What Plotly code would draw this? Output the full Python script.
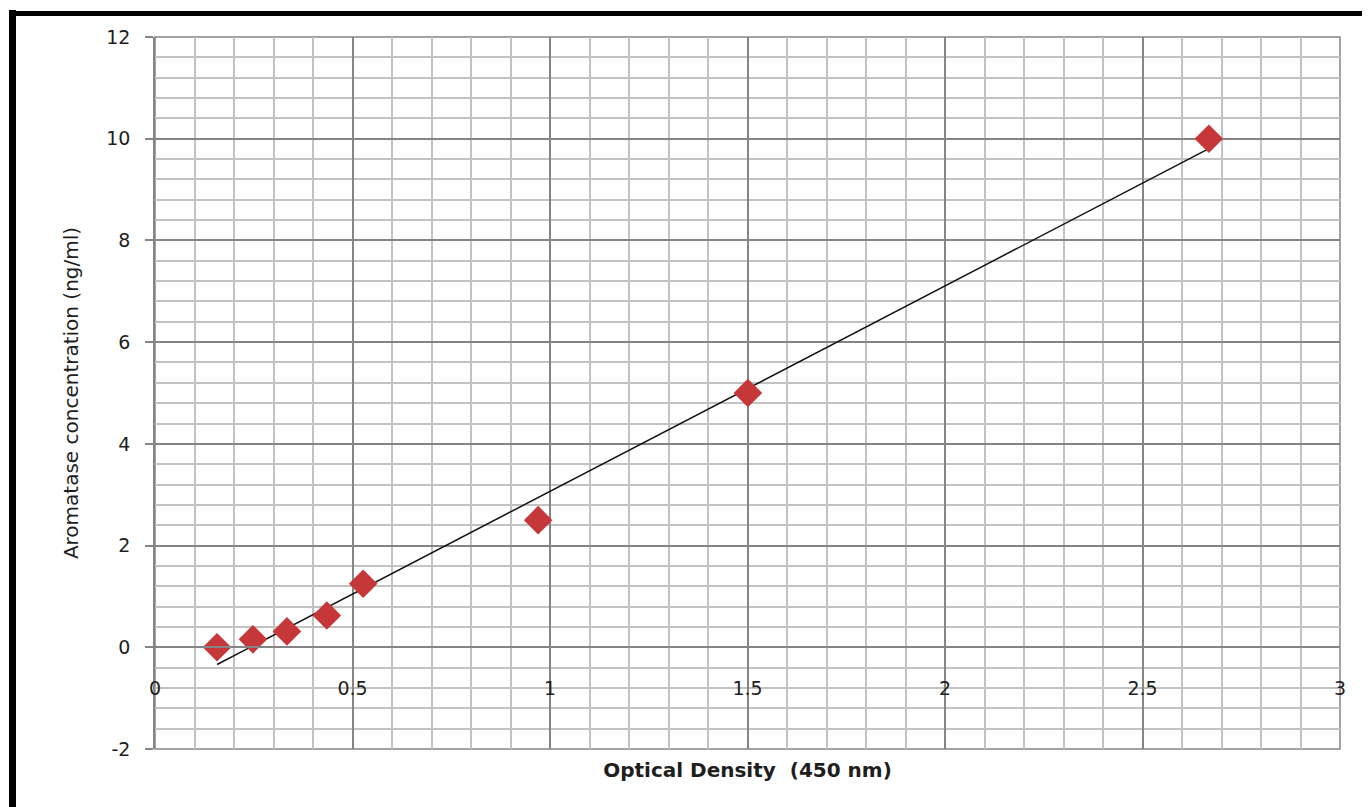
import numpy as np
import plotly.graph_objects as go

# Data
optical_density = [0.157, 0.248, 0.334, 0.435, 0.527, 0.970, 1.501, 2.668]
concentration = [0.0, 0.156, 0.312, 0.625, 1.25, 2.5, 5.0, 10.0]
x_ticks = [0, 0.5, 1, 1.5, 2, 2.5, 3]
x_tick_labels = ["0", "0.5", "1", "1.5", "2", "2.5", "3"]
y_ticks = [-2, 0, 2, 4, 6, 8, 10, 12]
y_tick_labels = ["-2", "0", "2", "4", "6", "8", "10", "12"]

# Linear trendline (least squares fit, as Excel does)
slope, intercept = np.polyfit(optical_density, concentration, 1)
trend_x = [min(optical_density), max(optical_density)]
trend_y = [slope * v + intercept for v in trend_x]

MAJOR = "#858585"
MINOR = "#c2c2c2"
TXT = "#1e1e1e"
FONT = "DejaVu Sans"

# The page body adds an 8px margin, so the figure is 8px smaller.
W, H = 1362, 799
L, T, R, B = 147, 29, 30, 58
PW, PH = W - L - R, H - T - B


def px_to_paper_x(px):
    return (px - 8 - L) / PW


def px_to_paper_y(py):
    return (H - B - (py - 8)) / PH


fig = go.Figure()
fig.add_trace(go.Scatter(
    x=trend_x, y=trend_y, mode="lines",
    line=dict(color="#111111", width=1.5), showlegend=False, hoverinfo="skip"))
fig.add_trace(go.Scatter(
    x=optical_density, y=concentration, mode="markers",
    marker=dict(symbol="diamond", size=22, color="#C6373A",
                line=dict(width=0)),
    showlegend=False))

fig.update_layout(
    width=W, height=H,
    margin=dict(l=L, r=R, t=T, b=B),
    paper_bgcolor="white", plot_bgcolor="white",
    font=dict(family=FONT, size=19, color=TXT),
    xaxis=dict(
        range=[0, 3], tickvals=x_ticks, ticktext=x_tick_labels,
        showgrid=True, gridcolor=MAJOR, gridwidth=1.5,
        minor=dict(dtick=0.1, showgrid=True, gridcolor=MINOR, gridwidth=1.5),
        zeroline=False, showline=True, linecolor=MAJOR, linewidth=1.5,
        anchor="free", position=2 / 14, ticks="",
        ticklabelstandoff=24,
        tickfont=dict(family=FONT, size=19, color=TXT),
        title=dict(text="<b>Optical Density  (450 nm)</b>",
                   font=dict(family=FONT, size=20, color=TXT), standoff=64),
    ),
    yaxis=dict(
        range=[-2, 12], tickvals=y_ticks, ticktext=y_tick_labels,
        showgrid=True, gridcolor=MAJOR, gridwidth=1.5,
        minor=dict(dtick=0.4, showgrid=True, gridcolor=MINOR, gridwidth=1.5),
        zeroline=False, showline=True, linecolor=MAJOR, linewidth=1.5,
        ticks="outside", ticklen=8, tickcolor=MAJOR, tickwidth=1.5,
        ticklabelstandoff=11,
        tickfont=dict(family=FONT, size=19, color=TXT),
        title=dict(text="Aromatase concentration (ng/ml)",
                   font=dict(family=FONT, size=20, color=TXT), standoff=22),
    ),
)

# Plot-area border (outer gridlines)
fig.add_shape(type="rect", xref="paper", yref="paper", x0=0, y0=0, x1=1, y1=1,
              line=dict(color=MAJOR, width=1.5), layer="below")

# Black frame around the picture (left and top edges)
fig.add_shape(type="line", xref="paper", yref="paper",
              x0=px_to_paper_x(12.5), x1=px_to_paper_x(12.5),
              y0=px_to_paper_y(10), y1=px_to_paper_y(830),
              line=dict(color="black", width=7))
fig.add_shape(type="line", xref="paper", yref="paper",
              x0=px_to_paper_x(9), x1=px_to_paper_x(1400),
              y0=px_to_paper_y(13.5), y1=px_to_paper_y(13.5),
              line=dict(color="black", width=5))

fig.write_html("out.html")
